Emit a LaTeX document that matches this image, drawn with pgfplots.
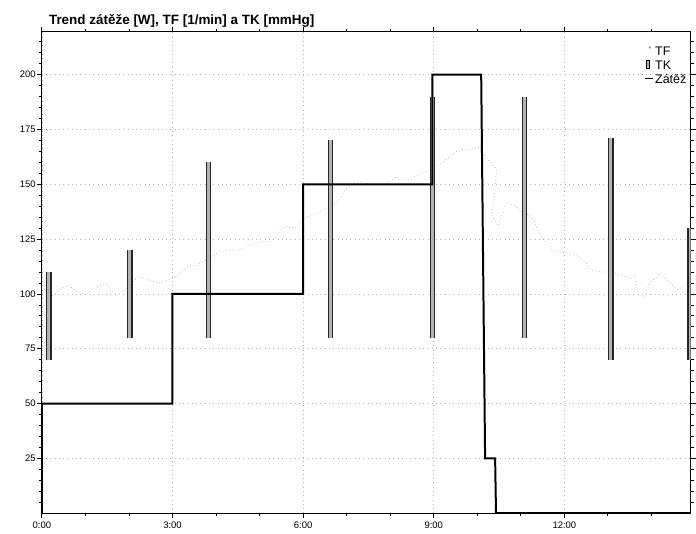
\documentclass[border=0pt]{standalone}
\usepackage{pgfplots}
\pgfplotsset{compat=1.18}
\usepackage{pgfplotstable}
\usepackage{fontspec}
\setmainfont{Liberation Sans}

\pgfplotstableread{
t y
0.09 96
0.16 98
0.28 100
0.39 102
0.50 103
0.62 104
0.73 102
0.92 100
1.08 101
1.24 103
1.47 105
1.58 102
1.70 100
1.83 101
2.00 103
2.11 106
2.22 108
2.34 107
2.52 106
2.68 105
2.84 106
2.98 107
3.10 108
3.21 110
3.37 113
3.55 113
3.81 116
4.06 119
4.27 120
4.52 120
4.72 122
4.91 123
5.07 124
5.28 124
5.44 128
5.60 131
5.73 130
5.89 131
6.06 135
6.19 136
6.35 137
6.51 139
6.65 140
6.77 142
6.88 144.5
6.97 147.7
7.22 151
7.43 150.5
7.80 150
7.96 151
8.12 153
8.42 152
8.65 154.5
8.81 155.5
8.94 157
9.11 159
9.33 162
9.56 165.5
9.70 166
9.86 166
10.02 167
10.20 162
10.44 157
10.41 147
10.32 136
10.48 131
10.67 142
10.87 140
10.94 138.6
11.08 137
11.24 135.5
11.42 128
11.63 122
11.74 119.5
11.97 119
12.27 118
12.48 114.5
12.61 111
12.84 110
13.09 110
13.39 108
13.53 107
13.62 109
13.69 100
13.81 98.6
13.97 105
14.20 109.5
14.50 103.6
14.61 102
14.77 104
}\tfdata

\pgfplotstableread{
t y
0.16 70
0.16 110
0.16 nan
2.02 80
2.02 120
2.02 nan
3.83 80
3.83 160
3.83 nan
6.63 80
6.63 170
6.63 nan
8.97 80
8.97 190
8.97 nan
11.08 80
11.08 190
11.08 nan
13.07 70
13.07 171
13.07 nan
14.89 70
14.89 130
}\tkdata

\pgfplotstableread{
t y
0 0
0 50
3 50
3 100
6 100
6 150
8.97 150
8.97 200
10.09 200
10.18 25
10.41 25
10.43 0
14.9 0
}\zatez

\begin{document}
\begin{tikzpicture}
\begin{axis}[
  scale only axis, width=651pt, height=483pt,
  xmin=0, xmax=14.9, ymin=0, ymax=219.5,
  xtick={0,3,6,9,12}, xticklabels={0:00,3:00,6:00,9:00,12:00},
  minor xtick={1,2,4,5,7,8,10,11,13,14},
  ytick={25,50,...,200},
  minor ytick={5,10,...,215},
  tick align=outside,
  major tick length=5pt, minor tick length=3pt,
  every tick/.style={black, line width=0.8pt},
  axis line style={line width=1.2pt},
  grid=major,
  major grid style={gray!60, dash pattern=on 0.8pt off 3.5pt, line width=0.6pt},
  ticklabel style={font=\fontsize{9.5}{10}\selectfont},
  yticklabel style={inner sep=1pt},
  /pgf/number format/assume math mode=true,
  unbounded coords=jump,
  legend style={at={(axis description cs:0.928,0.972)}, anchor=north west,
    draw=none, fill=none, font=\fontsize{12.5}{12.5}\selectfont,
    row sep=4pt, column sep=1pt, inner sep=0pt,
    nodes={inner sep=0.5pt, text height=9pt, text depth=0pt}},
  legend cell align=left,
]
\addplot[gray!70, line width=0.6pt, dash pattern=on 0.7pt off 2.6pt,
  legend image code/.code={\path[draw=none,fill=none] (0pt,-4pt) rectangle (8pt,4pt); \fill[solid, gray!80] (5pt,3pt) circle (0.8pt);}]
  table[x=t,y=y] {\tfdata};
\addlegendentry{TF}
\addplot[black!85, line width=5.5pt,
  legend image code/.code={\path[draw=none,fill=none] (0pt,-4pt) rectangle (8pt,4pt); \draw[solid, black, fill=gray!60, line width=0.9pt] (2pt,-3.5pt) rectangle (5pt,5.5pt);}]
  table[x=t,y=y] {\tkdata};
\addlegendentry{TK}
\addplot[gray!60, line width=3pt, forget plot] table[x=t,y=y] {\tkdata};
\addplot[black, line width=2pt, line join=miter,
  legend image code/.code={\path[draw=none,fill=none] (0pt,-4pt) rectangle (8pt,4pt); \draw[solid, black, line width=1.6pt] (0pt,1pt) -- (8pt,1pt);}]
  table[x=t,y=y] {\zatez};
\addlegendentry{Zátěž}
\end{axis}
\node[anchor=base west, font=\bfseries\fontsize{13.5}{13.5}\selectfont, inner sep=0pt]
  at ([xshift=7pt,yshift=7pt]current axis.north west) {Trend zátěže [W], TF [1/min] a TK [mmHg]};
\path ([xshift=-42pt,yshift=-20pt]current axis.south west) rectangle ([xshift=3pt,yshift=32pt]current axis.north east);
\end{tikzpicture}
\end{document}
